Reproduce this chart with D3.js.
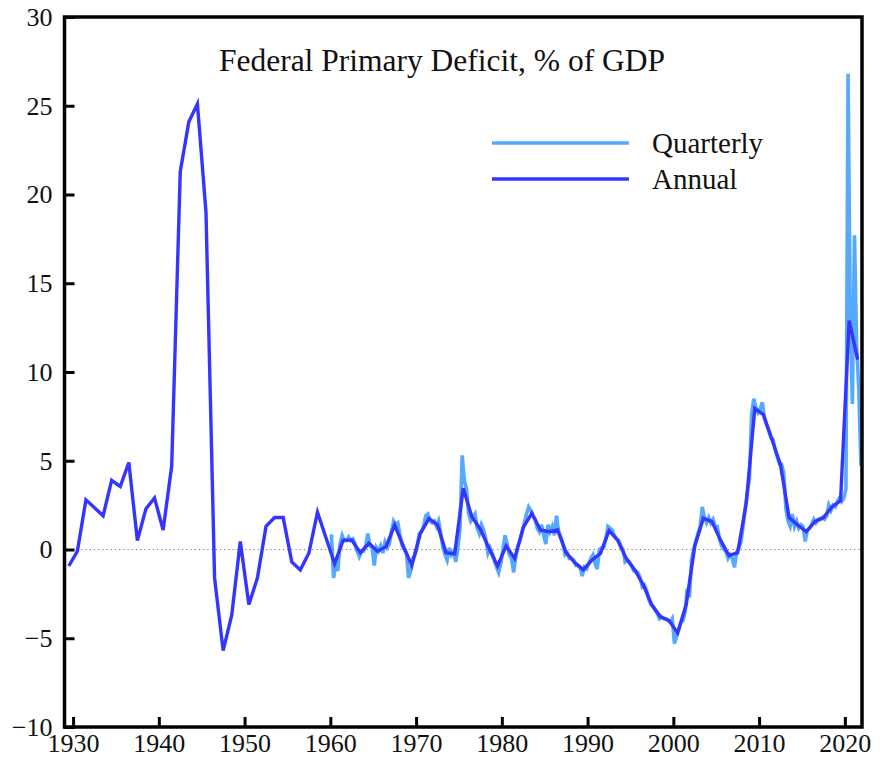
<!DOCTYPE html>
<html>
<head>
<meta charset="utf-8">
<script src="https://cdn.jsdelivr.net/npm/d3@7"></script>
<style>
  html, body { margin: 0; padding: 0; background: #fff; }
  svg { display: block; }
  svg text { font-family: "Liberation Serif", "Times New Roman", serif !important; fill: #111; }
</style>
</head>
<body>
<svg id="chart" width="888" height="758"></svg>
<script>
// ---------------- DATA ----------------
const title = "Federal Primary Deficit, % of GDP";
const seriesNames = ["Quarterly", "Annual"];

const annualStartYear = 1929;
const annualValues = [
  -0.93, -0.1, 2.8, 2.35, 1.9, 3.9, 3.55, 4.9, 0.5, 2.3,      // 1929-1938
  2.9, 1.1, 4.7, 21.3, 24.1, 25.1, 19.0, -1.6, -5.7, -3.7,    // 1939-1948
  0.45, -3.1, -1.6, 1.3, 1.8, 1.8, -0.7, -1.15, -0.2, 2.1,    // 1949-1958
  0.65, -0.8, 0.53, 0.53, -0.18, 0.35, -0.1, 0.16, 1.38, 0.2, // 1959-1968
  -0.9, 0.9, 1.75, 1.38, -0.18, -0.25, 3.45, 1.85, 1.14, 0.07,// 1969-1978
  -0.93, 0.2, -0.5, 1.25, 2.04, 1.1, 1.0, 1.1, -0.18, -0.74,  // 1979-1988
  -1.15, -0.6, -0.22, 1.06, 0.53, -0.5, -1.15, -2.0, -3.13, -3.79, // 1989-1998
  -4.0, -4.7, -3.1, 0.2, 1.76, 1.57, 0.53, -0.35, -0.18, 2.6, // 1999-2008
  7.95, 7.6, 6.2, 4.76, 1.8, 1.38, 1.0, 1.57, 1.8, 2.4,       // 2009-2018
  2.75, 12.9, 10.7                                            // 2019-2021
];

const quarterlyStartYear = 1960;
const quarterlyValues = [
  0.85, -1.6, -0.9, -1.2,   // 1960
  0.3, 0.8, 0.5, 0.5,       // 1961
  0.7, 0.5, 0.6, 0.3,       // 1962
  -0.1, -0.4, -0.1, -0.1,   // 1963
  0.2, 0.9, 0.2, 0.1,       // 1964
  -0.9, 0.1, -0.1, 0.2,     // 1965
  -0.2, 0.4, 0.1, 0.3,      // 1966
  1.0, 1.6, 1.4, 1.5,       // 1967
  0.8, 0.2, 0.0, -0.2,      // 1968
  -1.6, -1.2, -0.5, -0.3,   // 1969
  0.2, 0.9, 1.0, 1.3,       // 1970
  1.9, 2.0, 1.6, 1.5,       // 1971
  1.6, 1.3, 1.6, 0.9,       // 1972
  0.1, -0.3, -0.6, 0.1,     // 1973
  -0.3, -0.1, -0.7, 0.1,    // 1974
  1.2, 5.3, 3.9, 3.4,       // 1975
  2.0, 1.6, 1.8, 2.0,       // 1976
  1.2, 0.9, 1.4, 1.1,       // 1977
  0.6, -0.2, 0.1, -0.2,     // 1978
  -0.6, -1.0, -1.3, -0.8,   // 1979
  0.0, 0.8, 0.3, -0.3,      // 1980
  -0.5, -1.3, -0.4, 0.2,    // 1981
  0.5, 1.0, 1.5, 2.0,       // 1982
  2.4, 2.2, 1.9, 1.7,       // 1983
  1.2, 1.0, 1.4, 0.8,       // 1984
  0.3, 1.4, 1.0, 1.3,       // 1985
  0.8, 1.9, 1.0, 0.7,       // 1986
  0.3, -0.3, -0.2, -0.5,    // 1987
  -0.5, -0.6, -0.9, -0.9,   // 1988
  -1.0, -1.5, -1.0, -1.1,   // 1989
  -0.8, -0.5, -0.3, -0.8,   // 1990
  -1.1, 0.0, 0.1, 0.1,      // 1991
  0.6, 1.3, 1.2, 1.1,       // 1992
  0.8, 0.6, 0.5, 0.2,       // 1993
  0.0, -0.7, -0.6, -0.7,    // 1994
  -0.9, -1.2, -1.2, -1.3,   // 1995
  -1.6, -2.1, -2.0, -2.3,   // 1996
  -2.8, -3.1, -3.2, -3.4,   // 1997
  -3.6, -3.9, -3.8, -3.9,   // 1998
  -3.9, -4.0, -4.1, -3.9,   // 1999
  -5.3, -4.9, -4.5, -4.1,   // 2000
  -4.0, -3.5, -2.2, -2.7,   // 2001
  -0.6, 0.0, 0.5, 0.9,      // 2002
  1.3, 2.4, 1.8, 1.5,       // 2003
  1.8, 1.5, 1.7, 1.3,       // 2004
  1.3, 0.6, 0.2, 0.0,       // 2005
  -0.1, -0.5, -0.3, -0.5,   // 2006
  -1.0, -0.2, 0.1, 0.4,     // 2007
  1.3, 2.3, 3.2, 4.0,       // 2008
  7.6, 8.5, 8.0, 7.7,       // 2009
  7.9, 8.3, 7.4, 7.0,       // 2010
  6.7, 6.3, 6.2, 5.6,       // 2011
  5.2, 4.8, 4.8, 4.3,       // 2012
  2.3, 1.6, 1.3, 2.0,       // 2013
  1.3, 1.6, 1.2, 1.4,       // 2014
  1.3, 0.45, 1.1, 1.2,      // 2015
  1.4, 1.7, 1.5, 1.7,       // 2016
  1.7, 1.8, 1.7, 1.9,       // 2017
  2.5, 2.2, 2.5, 2.4,       // 2018
  2.7, 2.9, 2.7, 2.9,       // 2019
  3.4, 26.8, 13.2, 8.2,     // 2020
  17.7, 11.5, 9.0, 4.7      // 2021
];

const xTicks = [1930, 1940, 1950, 1960, 1970, 1980, 1990, 2000, 2010, 2020];
const yTicks = [-10, -5, 0, 5, 10, 15, 20, 25, 30];
const xDomain = [1929, 2022];
const yDomain = [-10, 30];

// ---------------- BUILD ----------------
const annual = annualValues.map((v, i) => ({ t: annualStartYear + i + 0.5, v }));
const quarterly = quarterlyValues.map((v, i) => ({
  t: quarterlyStartYear + Math.floor(i / 4) + ((i % 4) + 0.5) / 4, v
}));

const svg = d3.select("#chart");
const L = 64.5, R = 862, T = 17, B = 727;

const x = d3.scaleLinear().domain(xDomain).range([L, R]);
const y = d3.scaleLinear().domain(yDomain).range([B, T]);

// zero reference line (dotted)
svg.append("line")
  .attr("x1", L).attr("x2", R)
  .attr("y1", y(0)).attr("y2", y(0))
  .attr("stroke", "#777").attr("stroke-width", 1.2)
  .attr("stroke-dasharray", "1.2,3");

const line = d3.line().x(d => x(d.t)).y(d => y(d.v));

svg.append("path").datum(quarterly)
  .attr("d", line).attr("fill", "none")
  .attr("stroke", "#55aaff").attr("stroke-width", 3.6)
  .attr("stroke-linejoin", "miter");

svg.append("path").datum(annual)
  .attr("d", line).attr("fill", "none")
  .attr("stroke", "#3535ff").attr("stroke-width", 3.4)
  .attr("stroke-linejoin", "miter");

// axes
const yAxis = d3.axisLeft(y).tickValues(yTicks).tickSize(-10).tickPadding(12).tickFormat(d3.format("d"));
const gy = svg.append("g").attr("transform", `translate(${L},0)`).call(yAxis)
  .attr("font-family", "Liberation Serif, serif");
gy.select(".domain").remove();
gy.selectAll(".tick line").attr("stroke", "#000").attr("stroke-width", 3);
gy.selectAll(".tick text").attr("font-size", 26).style("fill", "#111");

const xAxis = d3.axisBottom(x).tickValues(xTicks).tickSize(-10).tickPadding(7).tickFormat(d3.format("d"));
const gx = svg.append("g").attr("transform", `translate(0,${B})`).call(xAxis)
  .attr("font-family", "Liberation Serif, serif");
gx.select(".domain").remove();
gx.selectAll(".tick line").attr("stroke", "#000").attr("stroke-width", 3);
gx.selectAll(".tick text").attr("font-size", 26).style("fill", "#111");

// frame
svg.append("rect")
  .attr("x", L).attr("y", T).attr("width", R - L).attr("height", B - T)
  .attr("fill", "none").attr("stroke", "#000").attr("stroke-width", 3.5);

// title
svg.append("text")
  .attr("x", 442).attr("y", 71)
  .attr("text-anchor", "middle")
  .attr("font-size", 31.5)
  .text(title);

// legend
const legendColors = ["#55aaff", "#3535ff"];
const legendY = [143, 179];
seriesNames.forEach((name, i) => {
  svg.append("line")
    .attr("x1", 492).attr("x2", 629)
    .attr("y1", legendY[i]).attr("y2", legendY[i])
    .attr("stroke", legendColors[i]).attr("stroke-width", 3.4);
  svg.append("text")
    .attr("x", 652).attr("y", legendY[i] + 10)
    .attr("font-size", 29)
    .text(name);
});
</script>
</body>
</html>
